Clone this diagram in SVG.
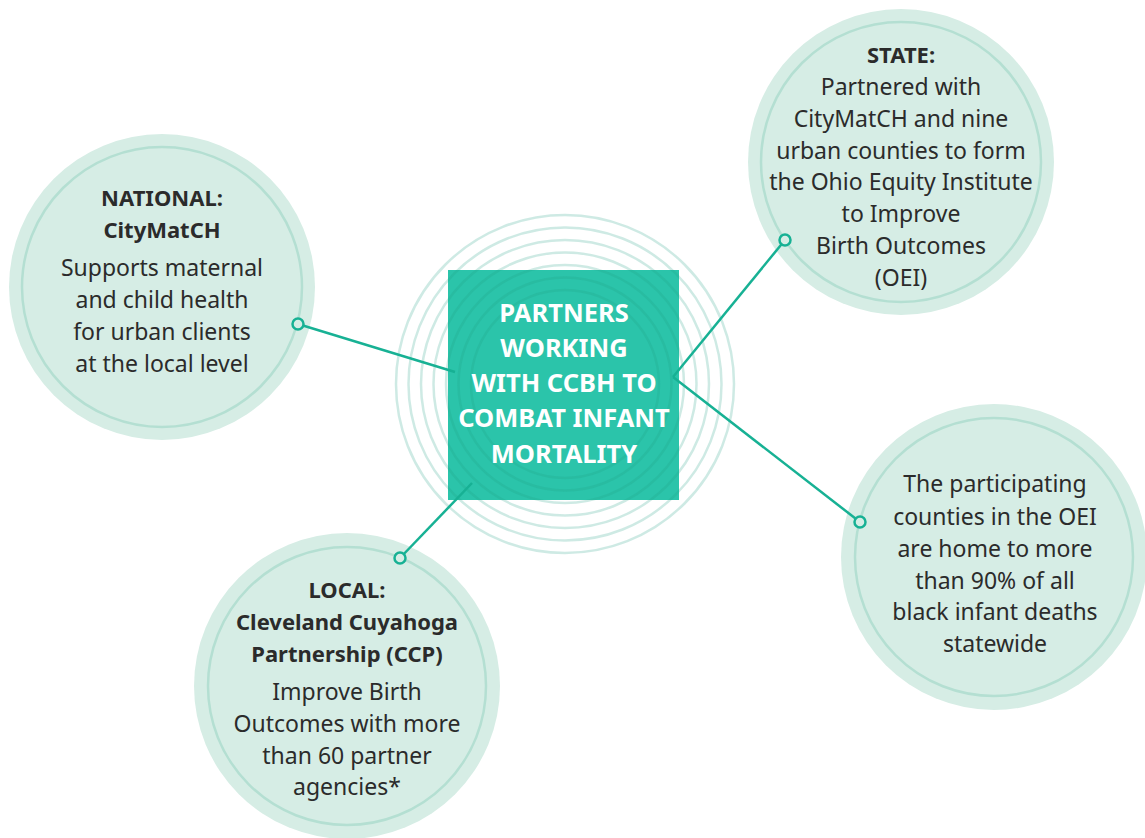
<svg xmlns="http://www.w3.org/2000/svg" width="1145" height="838" viewBox="0 0 1145 838">
  <style>
    .bubble { fill: #d6ede5; }
    .ring { fill: none; stroke: #b4dfd2; stroke-width: 2.5; }
    .halo { fill: none; stroke: #1f9e86; stroke-opacity: 0.22; stroke-width: 2.5; }
    .box { fill: #2bc4aa; }
    .conn { stroke: #17b194; stroke-width: 2.5; fill: none; }
    .dot { fill: #d6ede5; stroke: #17b194; stroke-width: 2.5; }
    text { font-family: "Noto Sans", "Open Sans", "Liberation Sans", sans-serif; text-anchor: middle; fill: #2b2b2b; }
    .t { font-size: 23px; }
    .h { font-size: 22px; font-weight: bold; }
    .c { font-size: 25.5px; font-weight: bold; fill: #ffffff; }
  </style>
  <rect width="1145" height="838" fill="#ffffff"/>

  <g id="node-national">
    <circle class="bubble" cx="162" cy="287" r="153"/>
    <circle class="ring" cx="162" cy="287" r="140"/>
    <text class="h" x="162" y="206">NATIONAL:</text>
    <text class="h" x="162" y="238">CityMatCH</text>
    <text class="t" x="162" y="276">Supports maternal</text>
    <text class="t" x="162" y="308">and child health</text>
    <text class="t" x="162" y="340">for urban clients</text>
    <text class="t" x="162" y="372">at the local level</text>
  </g>

  <g id="node-state">
    <circle class="bubble" cx="901" cy="162" r="153"/>
    <circle class="ring" cx="901" cy="162" r="140"/>
    <text class="h" x="901" y="63">STATE:</text>
    <text class="t" x="901" y="95">Partnered with</text>
    <text class="t" x="901" y="127">CityMatCH and nine</text>
    <text class="t" x="901" y="159">urban counties to form</text>
    <text class="t" x="901" y="190">the Ohio Equity Institute</text>
    <text class="t" x="901" y="222">to Improve</text>
    <text class="t" x="901" y="254">Birth Outcomes</text>
    <text class="t" x="901" y="286">(OEI)</text>
  </g>

  <g id="node-local">
    <circle class="bubble" cx="347" cy="686" r="153"/>
    <circle class="ring" cx="347" cy="686" r="139"/>
    <text class="h" x="347" y="598">LOCAL:</text>
    <text class="h" x="347" y="630">Cleveland Cuyahoga</text>
    <text class="h" x="347" y="662">Partnership (CCP)</text>
    <text class="t" x="347" y="700">Improve Birth</text>
    <text class="t" x="347" y="732">Outcomes with more</text>
    <text class="t" x="347" y="764">than 60 partner</text>
    <text class="t" x="347" y="795">agencies*</text>
  </g>

  <g id="node-oei">
    <circle class="bubble" cx="994" cy="557" r="153"/>
    <circle class="ring" cx="994" cy="557" r="139"/>
    <text class="t" x="995" y="492">The participating</text>
    <text class="t" x="995" y="525">counties in the OEI</text>
    <text class="t" x="995" y="557">are home to more</text>
    <text class="t" x="995" y="589">than 90% of all</text>
    <text class="t" x="995" y="620">black infant deaths</text>
    <text class="t" x="995" y="652">statewide</text>
  </g>

  <g id="node-center">
    <rect class="box" x="448" y="270" width="231" height="230"/>
    <circle class="halo" cx="565" cy="384" r="169"/>
    <circle class="halo" cx="565" cy="384" r="156.5"/>
    <circle class="halo" cx="565" cy="384" r="144"/>
    <circle class="halo" cx="565" cy="384" r="131.5"/>
    <circle class="halo" cx="565" cy="384" r="119"/>
    <circle class="halo" cx="565" cy="384" r="106.5"/>
    <circle class="halo" cx="565" cy="384" r="94"/>
    <text class="c" x="564" y="322">PARTNERS</text>
    <text class="c" x="564" y="357">WORKING</text>
    <text class="c" x="564" y="392">WITH CCBH TO</text>
    <text class="c" x="564" y="427">COMBAT INFANT</text>
    <text class="c" x="564" y="463">MORTALITY</text>
  </g>

  <g id="connectors">
    <line class="conn" x1="455" y1="372" x2="298" y2="324"/>
    <line class="conn" x1="673" y1="377" x2="785" y2="240"/>
    <line class="conn" x1="673" y1="377" x2="860" y2="522"/>
    <line class="conn" x1="472" y1="483" x2="400" y2="558"/>
    <circle class="dot" cx="298" cy="324" r="5.5"/>
    <circle class="dot" cx="785" cy="240" r="5.5"/>
    <circle class="dot" cx="860" cy="522" r="5.5"/>
    <circle class="dot" cx="400" cy="558" r="5.5"/>
  </g>
</svg>
